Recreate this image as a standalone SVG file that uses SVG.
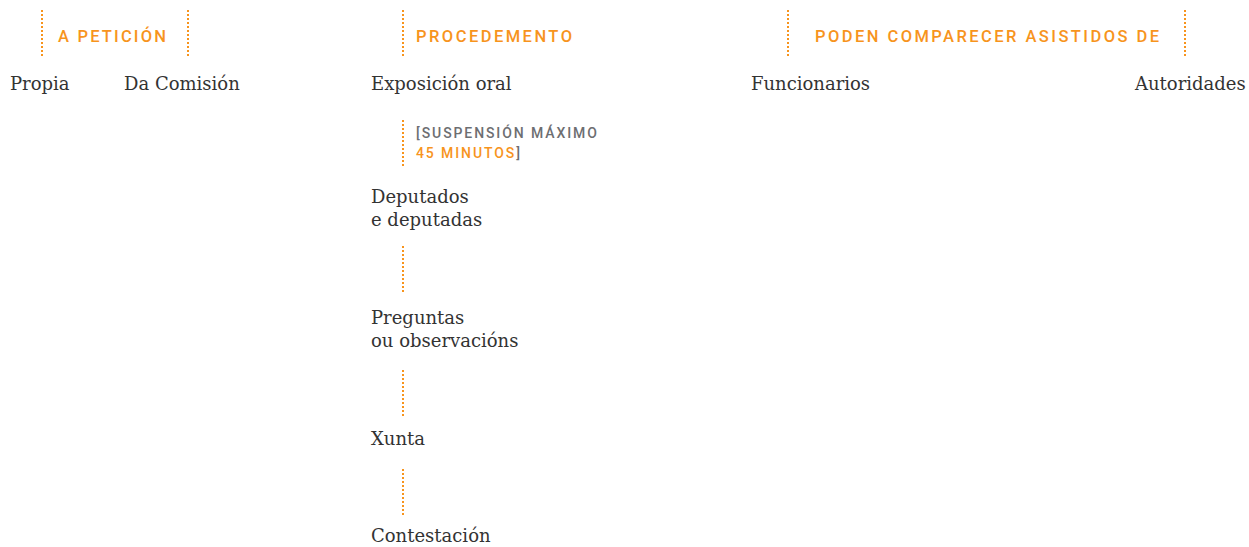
<svg xmlns="http://www.w3.org/2000/svg" width="1249" height="547" viewBox="0 0 1249 547">
<style>
.dot{stroke:#f7941d;stroke-width:2;stroke-dasharray:2 2;fill:none}
.hd{font-family:Roboto,"Liberation Sans",sans-serif;font-weight:500;font-size:16.5px;fill:#f7941d}
.sm{font-family:Roboto,"Liberation Sans",sans-serif;font-weight:500;font-size:14px;letter-spacing:1.9px}
.tx{font-family:"DejaVu Serif","Liberation Serif",serif;font-size:18px;fill:#333}
</style>
<rect width="1249" height="547" fill="#fff"/>
<g id="connectors">
<line class="dot" x1="42" y1="10" x2="42" y2="58"/>
<line class="dot" x1="188" y1="10" x2="188" y2="58"/>
<line class="dot" x1="403" y1="10" x2="403" y2="58"/>
<line class="dot" x1="788" y1="10" x2="788" y2="58"/>
<line class="dot" x1="1185" y1="10" x2="1185" y2="58"/>
<line class="dot" x1="403" y1="120" x2="403" y2="168"/>
<line class="dot" x1="403" y1="246" x2="403" y2="294"/>
<line class="dot" x1="403" y1="370" x2="403" y2="418"/>
<line class="dot" x1="403" y1="469" x2="403" y2="517"/>
</g>
<g id="h-peticion"><text class="hd" x="58" y="41.5" textLength="108" lengthAdjust="spacing">A PETICIÓN</text></g>
<g id="h-procedemento"><text class="hd" x="416" y="41.5" textLength="156" lengthAdjust="spacing">PROCEDEMENTO</text></g>
<g id="h-poden"><text class="hd" x="815" y="41.5" textLength="344" lengthAdjust="spacing">PODEN COMPARECER ASISTIDOS DE</text></g>
<g id="propia"><text class="tx" x="10" y="90">Propia</text></g>
<g id="comision"><text class="tx" x="124" y="90">Da Comisión</text></g>
<g id="exposicion"><text class="tx" x="371" y="90">Exposición oral</text></g>
<g id="funcionarios"><text class="tx" x="751" y="90">Funcionarios</text></g>
<g id="autoridades"><text class="tx" x="1135" y="90">Autoridades</text></g>
<g id="suspension">
<text class="sm" x="416" y="137.5" fill="#6d6e71">[SUSPENSIÓN MÁXIMO</text>
<text class="sm" x="416" y="157.5"><tspan fill="#f7941d">45 MINUTOS</tspan><tspan fill="#6d6e71">]</tspan></text>
</g>
<g id="deputados"><text class="tx" x="371" y="203">Deputados</text><text class="tx" x="371" y="226">e deputadas</text></g>
<g id="preguntas"><text class="tx" x="371" y="324">Preguntas</text><text class="tx" x="371" y="347">ou observacións</text></g>
<g id="xunta"><text class="tx" x="371" y="445">Xunta</text></g>
<g id="contestacion"><text class="tx" x="371" y="542">Contestación</text></g>
</svg>
